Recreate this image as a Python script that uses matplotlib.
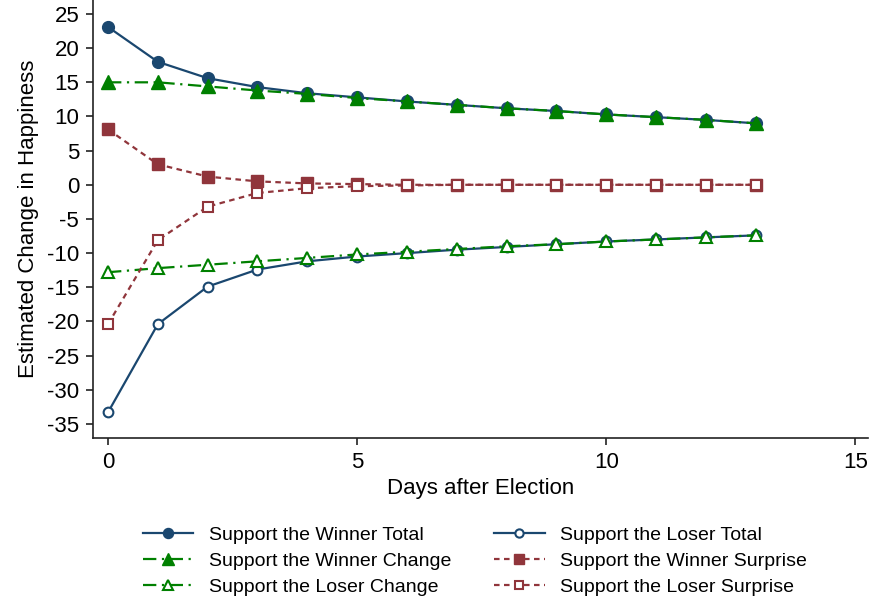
import matplotlib
matplotlib.use("Agg")
import matplotlib.pyplot as plt
import numpy as np

plt.rcParams['font.family'] = ['Liberation Sans', 'DejaVu Sans']
plt.rcParams['axes.unicode_minus'] = False

days = np.arange(14)

winner_total = [23.1, 18.0, 15.6, 14.3, 13.4, 12.8, 12.2, 11.7, 11.2, 10.8, 10.3, 9.9, 9.5, 9.0]
winner_change = [15.0, 15.0, 14.4, 13.8, 13.3, 12.7, 12.2, 11.7, 11.2, 10.8, 10.3, 9.9, 9.5, 9.0]
winner_surprise = [8.1, 3.0, 1.2, 0.5, 0.2, 0.1, 0.0, 0.0, 0.0, 0.0, 0.0, 0.0, 0.0, 0.0]
loser_total = [-33.3, -20.4, -14.9, -12.4, -11.2, -10.5, -10.0, -9.5, -9.1, -8.7, -8.3, -8.0, -7.7, -7.4]
loser_change = [-12.8, -12.2, -11.7, -11.2, -10.7, -10.2, -9.8, -9.4, -9.0, -8.7, -8.3, -8.0, -7.7, -7.4]
loser_surprise = [-20.4, -8.1, -3.2, -1.2, -0.5, -0.2, -0.1, 0.0, 0.0, 0.0, 0.0, 0.0, 0.0, 0.0]

navy = '#1a476f'
maroon = '#90353b'
green = '#008000'

fig = plt.figure(figsize=(8.7, 6.04), dpi=100)
ax = fig.add_axes([0.107, 0.275, 0.891, 0.725])

lw = 1.6
dashdot = (0, (6, 2.5, 1, 2.5))
shortdash = (0, (2.5, 2))

h_wt, = ax.plot(days, winner_total, color=navy, lw=lw, marker='o', ms=8.5,
                mfc=navy, mec=navy, label='Support the Winner Total')
h_lt, = ax.plot(days, loser_total, color=navy, lw=lw, marker='o', ms=7,
                mfc='white', mec=navy, mew=1.5, label='Support the Loser Total')
h_wc, = ax.plot(days, winner_change, color=green, lw=lw, ls=dashdot, marker='^', ms=9.5,
                mfc=green, mec=green, label='Support the Winner Change')
h_lc, = ax.plot(days, loser_change, color=green, lw=lw, ls=dashdot, marker='^', ms=8.5,
                mfc='white', mec=green, mew=1.5, label='Support the Loser Change')
h_ws, = ax.plot(days, winner_surprise, color=maroon, lw=lw, ls=shortdash, marker='s', ms=8,
                mfc=maroon, mec=maroon, label='Support the Winner Surprise')
h_ls, = ax.plot(days, loser_surprise, color=maroon, lw=lw, ls=shortdash, marker='s', ms=7,
                mfc='white', mec=maroon, mew=1.5, label='Support the Loser Surprise')

ax.set_xlim(-0.3, 15.26)
ax.set_ylim(-37.05, 27.05)
ax.set_xticks([0, 5, 10, 15])
ax.set_yticks(np.arange(-35, 26, 5))
ax.tick_params(labelsize=16, length=5, width=1.2, color='#222222', pad=5)
ax.spines['top'].set_visible(False)
ax.spines['right'].set_visible(False)
for s in ('left', 'bottom'):
    ax.spines[s].set_linewidth(1.2)
    ax.spines[s].set_color('#222222')

ax.set_xlabel('Days after Election', fontsize=16, labelpad=4)
ax.set_ylabel('Estimated Change in Happiness', fontsize=16, labelpad=6)

handles = [h_wt, h_wc, h_lc, h_lt, h_ws, h_ls]
fig.legend(handles=handles, labels=[h.get_label() for h in handles],
           loc='center', bbox_to_anchor=(0.546, 0.071), ncol=2, frameon=False,
           fontsize=14, handlelength=2.6, handletextpad=0.8, columnspacing=2.2,
           labelspacing=0.42, markerscale=0.85)

fig.savefig('out.png', dpi=100)
